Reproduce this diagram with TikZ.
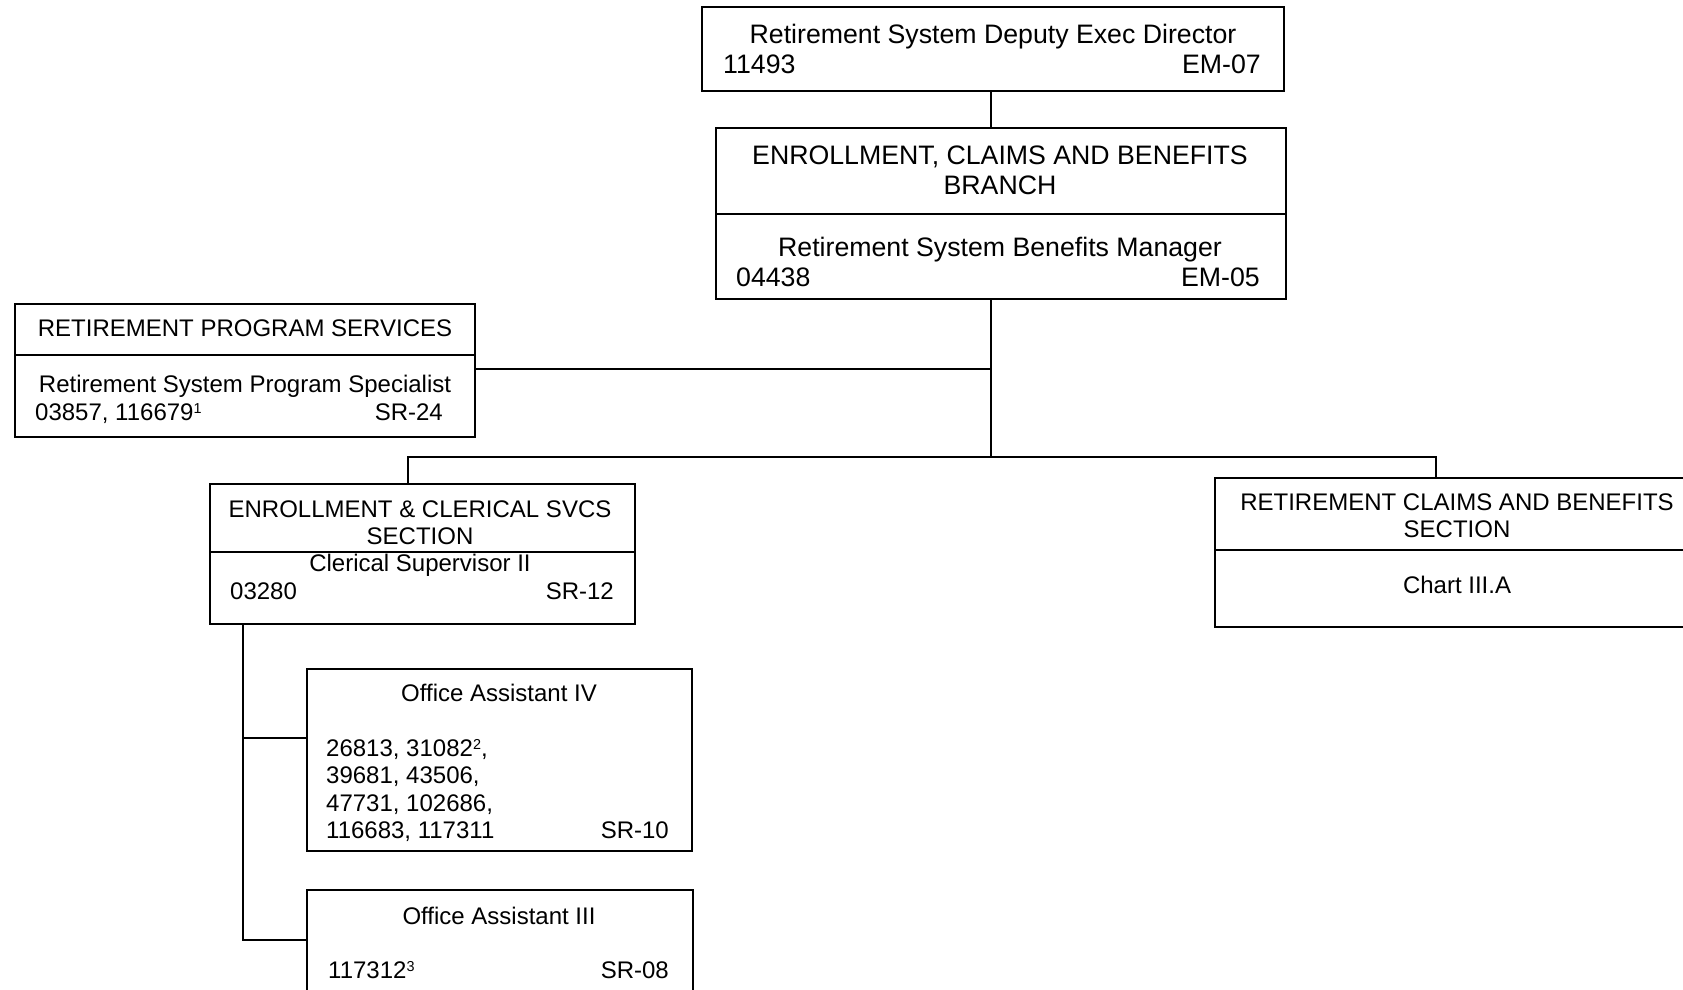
\documentclass[tikz,border=0pt]{standalone}
\usepackage{fontspec}
\setmainfont{Liberation Sans}
\newcommand{\supnum}[1]{\raisebox{7.5pt}{\scalebox{0.6}{#1}}}
\begin{document}
\begin{tikzpicture}[x=1pt,y=-1pt,
  box/.style={draw, line width=2pt, inner sep=0pt},
  wire/.style={line width=2pt},
  big/.style={font=\fontsize{26.7}{30}\selectfont, inner sep=0pt, text height=19pt, text depth=0pt},
  small/.style={font=\fontsize{24}{27}\selectfont, inner sep=0pt, text height=17.2pt, text depth=0pt}]
\useasboundingbox (0,0) rectangle (1683,990);
\clip (0,0) rectangle (1683,990);
% boxes
\node[box, minimum width=582pt, minimum height=83.5pt] (top) at (993,49.25) {};
\node[box, minimum width=570pt, minimum height=171pt] (branch) at (1001,213.5) {};
\node[box, minimum width=460pt, minimum height=133pt] (rps) at (245,370.5) {};
\node[box, minimum width=425pt, minimum height=140pt] (ecs) at (422.5,554) {};
\node[box, minimum width=485pt, minimum height=149pt] (rcb) at (1457.5,552.5) {};
\node[box, minimum width=385pt, minimum height=182pt] (oa4) at (499.5,760) {};
\node[box, minimum width=386pt, minimum height=120pt] (oa3) at (500,950) {};
% dividers
\draw[wire] (branch.west |- 0,214) -- (branch.east |- 0,214);
\draw[wire] (rps.west |- 0,355) -- (rps.east |- 0,355);
\draw[wire] (ecs.west |- 0,552) -- (ecs.east |- 0,552);
\draw[wire] (rcb.west |- 0,550) -- (rcb.east |- 0,550);
% texts
\node[big] (t1) at (993,34) {Retirement System Deputy Exec Director};
\node[big, anchor=west] (t1a) at (723,64) {11493};
\node[big, anchor=east] (t1b) at (1261,64) {EM-07};
\node[big] (b1) at (1000,155) {ENROLLMENT, CLAIMS AND BENEFITS};
\node[big] (b2) at (1000,185) {BRANCH};
\node[big] (b3) at (1000,247) {Retirement System Benefits Manager};
\node[big, anchor=west] (b4) at (736,277) {04438};
\node[big, anchor=east] (b5) at (1260,277) {EM-05};
\node[small] (r1) at (245,328) {RETIREMENT PROGRAM SERVICES};
\node[small] (r2) at (245,384) {Retirement System Program Specialist};
\node[small, anchor=west] (r3) at (35,412) {03857, 116679\supnum{1}};
\node[small, anchor=east] (r4) at (443,412) {SR-24};
\node[small] (e1) at (420,509) {ENROLLMENT \& CLERICAL SVCS};
\node[small] (e2) at (420,536) {SECTION};
\node[small] (e3) at (420,563) {Clerical Supervisor II};
\node[small, anchor=west] (e4) at (230,591) {03280};
\node[small, anchor=east] (e5) at (614,591) {SR-12};
\node[small] (c1) at (1457,502) {RETIREMENT CLAIMS AND BENEFITS};
\node[small] (c2) at (1457,529) {SECTION};
\node[small] (c3) at (1457,585) {Chart III.A};
\node[small] (o1) at (499,693) {Office Assistant IV};
\node[small, anchor=west] (o2) at (326,748) {26813, 31082\supnum{2},};
\node[small, anchor=west] (o3) at (326,775) {39681, 43506,};
\node[small, anchor=west] (o4) at (326,803) {47731, 102686,};
\node[small, anchor=west] (o5) at (326,830) {116683, 117311};
\node[small, anchor=east] (o6) at (669,830) {SR-10};
\node[small] (p1) at (499,916) {Office Assistant III};
\node[small, anchor=west] (p2) at (328,970) {117312\supnum{3}};
\node[small, anchor=east] (p3) at (669,970) {SR-08};
% connectors
\coordinate (spine) at (991,0);
\coordinate (j1) at (991,369);
\coordinate (bus) at (991,457);
\coordinate (busl) at (408,457);
\coordinate (busr) at (1436,457);
\coordinate (lv) at (243,0);
\draw[wire] (top.south -| spine) -- (branch.north -| spine);
\draw[wire] (branch.south -| spine) -- (bus);
\draw[wire] (rps.east |- j1) -- (j1);
\draw[wire] (ecs.north -| busl) -- (busl) -- (busr) -- (rcb.north -| busr);
\draw[wire] (ecs.south -| lv) -- (lv |- 0,940) -- (oa3.west |- 0,940);
\draw[wire] (lv |- 0,738) -- (oa4.west |- 0,738);
\end{tikzpicture}
\end{document}
